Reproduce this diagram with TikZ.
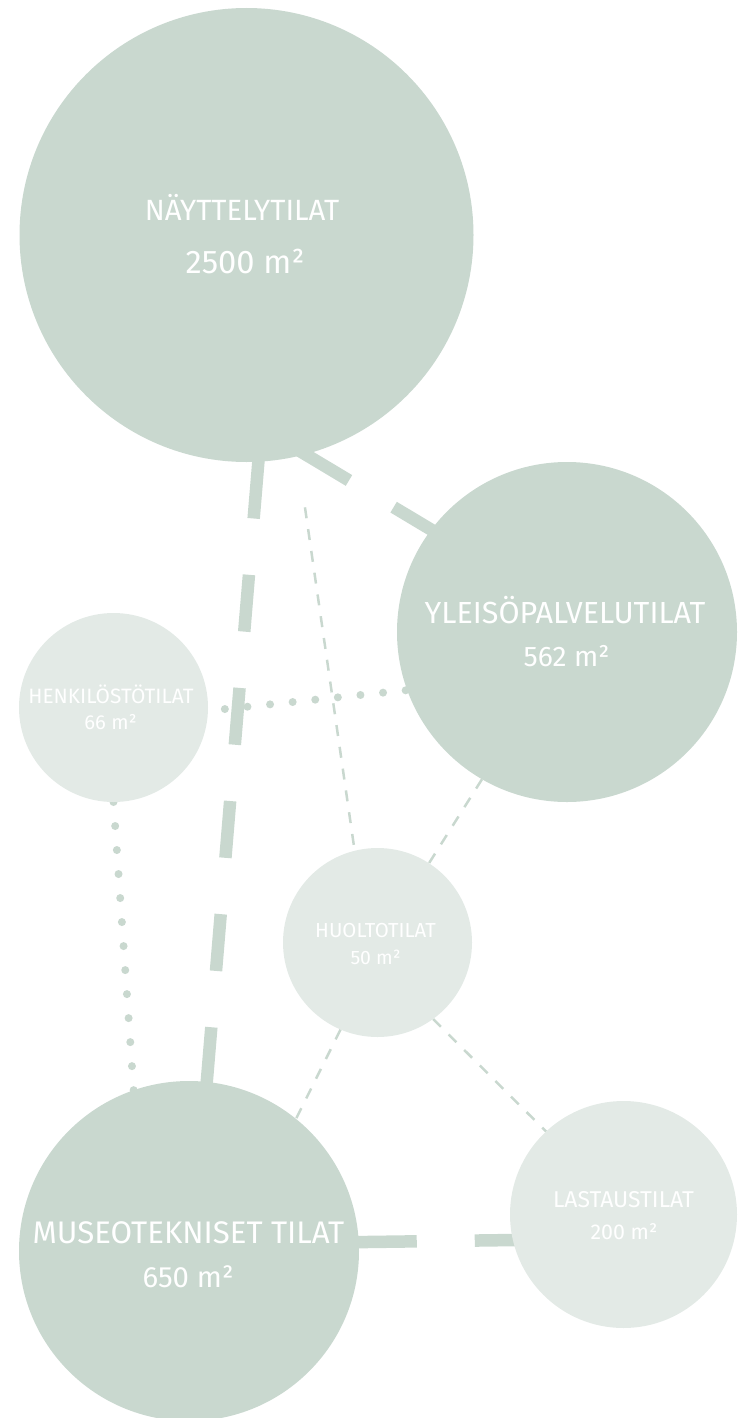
\documentclass[tikz,border=0pt]{standalone}
\usepackage{fontspec}
\IfFontExistsTF{Fira Sans Book}{\newfontfamily\lbl{Fira Sans Book}}{\newfontfamily\lbl{Fira Sans}}
\usetikzlibrary{calc}
\pgfdeclarelayer{background}
\pgfsetlayers{background,main}
\definecolor{darkc}{RGB}{201,216,207}
\definecolor{lightc}{RGB}{227,234,230}
\tikzset{
  bubble/.style={circle, inner sep=0pt, outer sep=0pt, draw=none},
  bigc/.style={bubble, fill=darkc},
  smallc/.style={bubble, fill=lightc},
  txt/.style={text=white, inner sep=0pt, anchor=base},
  thickdash/.style={draw=darkc, line width=12.5pt, line cap=butt},
  thindash/.style={draw=darkc, line width=2.5pt, dash pattern=on 11pt off 11pt},
  dotline/.style={draw=darkc, line width=8pt, line cap=round},
}
\newcommand{\fs}[1]{\lbl\fontsize{#1}{#1}\selectfont}
\begin{document}
\begin{tikzpicture}[x=1pt,y=-1pt]
\useasboundingbox (0,0) rectangle (737,1418);
% circles
\node[bigc, minimum size=454pt] (nay) at (246.5,235) {};
\node[bigc, minimum size=340pt] (yle) at (567,632) {};
\node[smallc, minimum size=189pt] (hen) at (113.5,707.5) {};
\node[smallc, minimum size=189pt] (huo) at (377.5,942.5) {};
\node[bigc, minimum size=340pt] (mus) at (189,1251) {};
\node[smallc, minimum size=227pt] (las) at (623.5,1214.5) {};
% labels
\node[txt, font=\fs{29.3}] (nay-t) at (242,220) {NÄYTTELYTILAT};
\node[txt, font=\fs{32.7}] (nay-v) at (245,273.3) {2500 m²};
\node[txt, font=\fs{30.5}] (yle-t) at (565,623.3) {YLEISÖPALVELUTILAT};
\node[txt, font=\fs{28.3}] (yle-v) at (566.5,666.7) {562 m²};
\node[txt, font=\fs{31.2}] (mus-t) at (188.5,1243) {MUSEOTEKNISET TILAT};
\node[txt, font=\fs{29.3}] (mus-v) at (188,1287) {650 m²};
\node[txt, font=\fs{22.9}] (las-t) at (623.5,1207.3) {LASTAUSTILAT};
\node[txt, font=\fs{21.4}] (las-v) at (624,1239.3) {200 m²};
\node[txt, font=\fs{20.8}] (hen-t) at (111,703) {HENKILÖSTÖTILAT};
\node[txt, font=\fs{20.2}] (hen-v) at (110.5,729) {66 m²};
\node[txt, font=\fs{20.3}] (huo-t) at (375.5,937) {HUOLTOTILAT};
\node[txt, font=\fs{19.4}] (huo-v) at (375.5,964) {50 m²};
% connectors
\begin{pgfonlayer}{background}
\draw[thickdash, shorten <=-10pt, shorten >=-12pt,
  dash pattern=on 61pt off 52pt on 120pt] (nay.-75) -- (yle.143.7);
\draw[thickdash, shorten <=-10pt, shorten >=-10pt,
  dash pattern=on 67pt off 56.5pt on 57pt off 56.5pt on 57pt off 56.5pt on 57pt off 56.5pt on 57pt off 56.5pt on 90pt]
  (nay.-87.6) -- (mus.84.6);
\draw[thickdash, shorten <=-10.5pt, shorten >=-12pt,
  dash pattern=on 68.5pt off 58pt on 120pt] (mus.3.4) -- (las.193.5);
\draw[dotline, dash pattern=on 0pt off 22.72pt, shorten <=17pt] (hen.-2.2) -- (yle.-160.5);
\draw[dotline, dash pattern=on 0pt off 24.07pt] (hen.-90) -- (mus.109);
\draw[thindash, shorten <=51.7pt] (nay.-77.9) -- (huo.104);
\draw[thindash] (yle.-120.2) -- (huo.57);
\draw[thindash] (huo.-113.7) -- (mus.51.4);
\draw[thindash] (huo.-54.6) -- (las.133.6);
\end{pgfonlayer}
\end{tikzpicture}
\end{document}
